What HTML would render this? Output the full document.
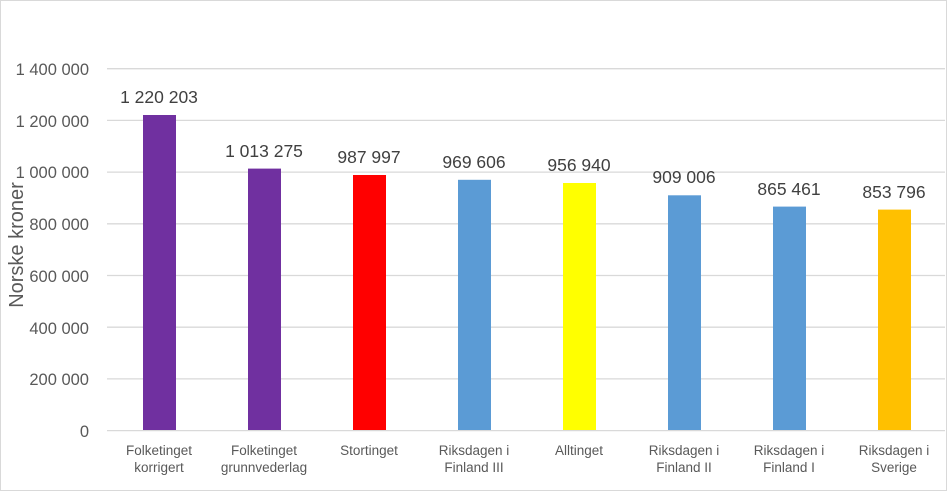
<!DOCTYPE html>
<html><head><style>body{margin:0;background:#fff}svg{display:block}</style></head><body>
<svg width="947" height="492" xmlns="http://www.w3.org/2000/svg" font-family="Liberation Sans, sans-serif">
<rect x="0.5" y="0.5" width="946" height="490" fill="#fff" stroke="#d9d9d9"/>
<g stroke="#d9d9d9" stroke-width="1.3">
<line x1="107" x2="945" y1="68.7" y2="68.7"/>
<line x1="107" x2="945" y1="120.4" y2="120.4"/>
<line x1="107" x2="945" y1="172.1" y2="172.1"/>
<line x1="107" x2="945" y1="223.8" y2="223.8"/>
<line x1="107" x2="945" y1="275.5" y2="275.5"/>
<line x1="107" x2="945" y1="327.2" y2="327.2"/>
<line x1="107" x2="945" y1="378.9" y2="378.9"/>
<line x1="107" x2="945" y1="430.6" y2="430.6"/>
</g>
<g font-size="16.5" fill="#595959" text-anchor="end">
<text x="89" y="75">1 400 000</text>
<text x="89" y="127">1 200 000</text>
<text x="89" y="178">1 000 000</text>
<text x="89" y="230">800 000</text>
<text x="89" y="282">600 000</text>
<text x="89" y="334">400 000</text>
<text x="89" y="385">200 000</text>
<text x="89" y="437">0</text>
</g>
<text transform="translate(23,245) rotate(-90)" font-size="20" fill="#595959" text-anchor="middle">Norske kroner</text>
<g>
<rect x="143" y="115" width="33" height="315" fill="#7030a0"/>
<rect x="248" y="168.6" width="33" height="261.4" fill="#7030a0"/>
<rect x="353" y="175" width="33" height="255" fill="#ff0000"/>
<rect x="458" y="179.8" width="33" height="250.2" fill="#5b9bd5"/>
<rect x="563" y="183" width="33" height="247" fill="#ffff00"/>
<rect x="668" y="195.3" width="33" height="234.7" fill="#5b9bd5"/>
<rect x="773" y="206.6" width="33" height="223.4" fill="#5b9bd5"/>
<rect x="878" y="209.6" width="33" height="220.4" fill="#ffc000"/>
</g>
<g font-size="17.5" fill="#404040" text-anchor="middle">
<text x="159" y="103">1 220 203</text>
<text x="264" y="157">1 013 275</text>
<text x="369" y="163">987 997</text>
<text x="474" y="168">969 606</text>
<text x="579" y="171">956 940</text>
<text x="684" y="183">909 006</text>
<text x="789" y="195">865 461</text>
<text x="894" y="198">853 796</text>
</g>
<g font-size="13.5" fill="#595959" text-anchor="middle">
<text x="159" y="455">Folketinget</text><text x="159" y="472">korrigert</text>
<text x="264" y="455">Folketinget</text><text x="264" y="472">grunnvederlag</text>
<text x="369" y="455">Stortinget</text>
<text x="474" y="455">Riksdagen i</text><text x="474" y="472">Finland III</text>
<text x="579" y="455">Alltinget</text>
<text x="684" y="455">Riksdagen i</text><text x="684" y="472">Finland  II</text>
<text x="789" y="455">Riksdagen i</text><text x="789" y="472">Finland I</text>
<text x="894" y="455">Riksdagen i</text><text x="894" y="472">Sverige</text>
</g>
</svg>
</body></html>
